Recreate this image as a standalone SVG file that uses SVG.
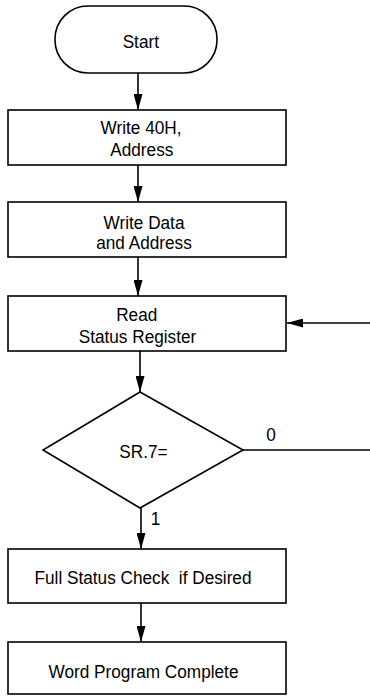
<svg xmlns="http://www.w3.org/2000/svg" width="370" height="696" viewBox="0 0 370 696">
<style>
.s{fill:#fff;stroke:#000;stroke-width:1.6}
.t{font-family:"Liberation Sans",Arial,sans-serif;font-size:18.5px;fill:#000;text-anchor:middle}
.c{stroke:#000;stroke-width:1.6;fill:none}
</style>
<defs>
<marker id="ah" markerWidth="16" markerHeight="9" refX="16" refY="4.5" orient="auto" markerUnits="userSpaceOnUse" viewBox="0 0 16 9">
<path d="M0,0 L16,4.5 L0,9 Z" fill="#000"/>
</marker>
</defs>
<rect width="370" height="696" fill="#fff"/>
<g id="connectors">
<line class="c" x1="138" y1="73" x2="138" y2="110" marker-end="url(#ah)"/>
<line class="c" x1="138" y1="165" x2="138" y2="202" marker-end="url(#ah)"/>
<line class="c" x1="138" y1="257" x2="138" y2="296" marker-end="url(#ah)"/>
<line class="c" x1="140" y1="351" x2="140" y2="392" marker-end="url(#ah)"/>
<line class="c" x1="370" y1="323" x2="287" y2="323" marker-end="url(#ah)"/>
<line class="c" x1="243" y1="450" x2="370" y2="450"/>
<line class="c" x1="141" y1="508" x2="141" y2="549" marker-end="url(#ah)"/>
<line class="c" x1="141" y1="603" x2="141" y2="642" marker-end="url(#ah)"/>
<g transform="translate(271,441) scale(0.93,1)"><text class="t" x="0" y="0">0</text></g>
<g transform="translate(155.6,525) scale(0.93,1)"><text class="t" x="0" y="0">1</text></g>
</g>
<g id="start">
<rect class="s" x="55" y="6" width="162" height="67" rx="33" ry="33"/>
<g transform="translate(140.8,47.5) scale(0.93,1)"><text class="t" x="0" y="0">Start</text></g>
</g>
<g id="write40h">
<rect class="s" x="8" y="110" width="278" height="55"/>
<g transform="translate(141,133.5) scale(0.93,1)"><text class="t" x="0" y="0">Write 40H,</text></g>
<g transform="translate(141.8,155.5) scale(0.93,1)"><text class="t" x="0" y="0">Address</text></g>
</g>
<g id="writedata">
<rect class="s" x="8" y="202" width="278" height="55"/>
<g transform="translate(144,228.5) scale(0.93,1)"><text class="t" x="0" y="0">Write Data</text></g>
<g transform="translate(144,249) scale(0.93,1)"><text class="t" x="0" y="0">and Address</text></g>
</g>
<g id="readsr">
<rect class="s" x="8" y="296" width="278" height="55"/>
<g transform="translate(136.7,320.5) scale(0.93,1)"><text class="t" x="0" y="0">Read</text></g>
<g transform="translate(137.5,343) scale(0.93,1)"><text class="t" x="0" y="0">Status Register</text></g>
</g>
<g id="decision">
<polygon class="s" points="140,392 243,450 140,508 43,450"/>
<g transform="translate(143.5,458) scale(0.93,1)"><text class="t" x="0" y="0">SR.7=</text></g>
</g>
<g id="fullstatus">
<rect class="s" x="8" y="549" width="278" height="54"/>
<g transform="translate(143,584) scale(0.93,1)"><text class="t" x="0" y="0" xml:space="preserve">Full Status Check  if Desired</text></g>
</g>
<g id="complete">
<rect class="s" x="8" y="642" width="278" height="52"/>
<g transform="translate(143.5,678) scale(0.93,1)"><text class="t" x="0" y="0">Word Program Complete</text></g>
</g>
</svg>
